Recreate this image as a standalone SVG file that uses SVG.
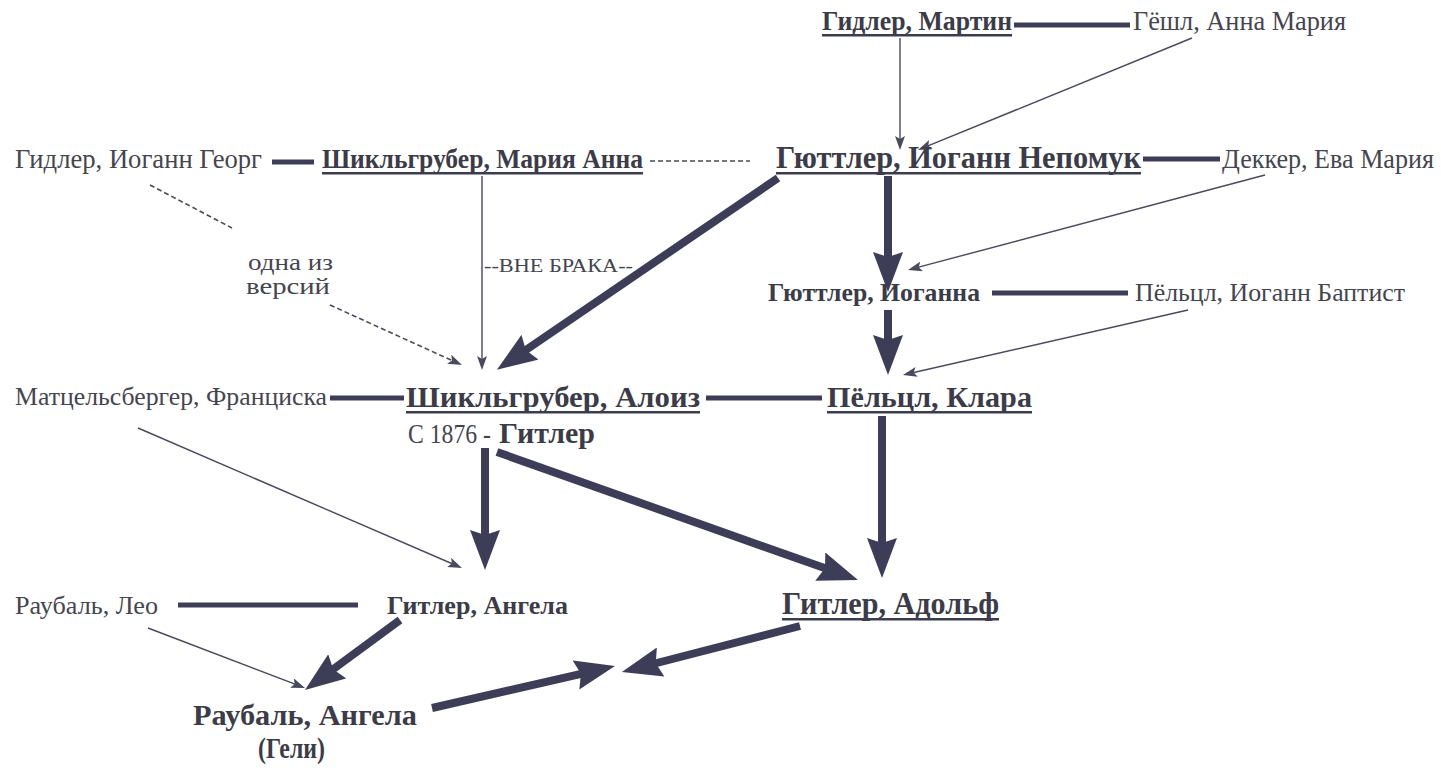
<svg xmlns="http://www.w3.org/2000/svg" width="1441" height="768" viewBox="0 0 1441 768">
<defs>
<style>
text{font-family:"Liberation Serif","Times New Roman",serif;fill:#45454f}
.b{font-weight:bold;fill:#3c3c48}
.ul{fill:#3c3c50}
.thick{stroke:#3d3d58;stroke-width:8;fill:none}
.link{stroke:#3d3d58;stroke-width:5;fill:none}
.thin{stroke:#4a4a5e;stroke-width:1.4;fill:none}
.dash{stroke:#4a4a5e;stroke-width:1.6;fill:none;stroke-dasharray:5 3}
</style>
<marker id="big" viewBox="0 0 40 30" refX="12" refY="15" markerWidth="40" markerHeight="30" markerUnits="userSpaceOnUse" orient="auto">
<path d="M0,0 L40,15 L0,30 L5,15 z" fill="#3d3d58"/>
</marker>
<marker id="sm" viewBox="0 0 14 10" refX="4" refY="5" markerWidth="14" markerHeight="10" markerUnits="userSpaceOnUse" orient="auto">
<path d="M0,0 L14,5 L0,10 L3,5 z" fill="#4a4a5e"/>
</marker>
</defs>
<rect width="1441" height="768" fill="#ffffff"/>

<g id="connectors">
<line class="link" x1="1014" y1="25" x2="1130" y2="25"/>
<line class="link" x1="1143" y1="159" x2="1220" y2="159"/>
<line class="link" x1="992" y1="293" x2="1128" y2="293"/>
<line class="link" x1="272" y1="162" x2="314" y2="162"/>
<line class="link" x1="330" y1="398" x2="404" y2="398"/>
<line class="link" x1="706" y1="398" x2="822" y2="398"/>
<line class="link" x1="178" y1="605" x2="358" y2="605"/>
<line class="dash" x1="650" y1="161" x2="750" y2="161"/>

<line class="thin" x1="900" y1="38" x2="900" y2="140" marker-end="url(#sm)"/>
<line class="thin" x1="1192" y1="38" x2="927.3" y2="146.2" marker-end="url(#sm)"/>
<line class="thin" x1="1265" y1="175" x2="917.7" y2="267.4" marker-end="url(#sm)"/>
<line class="thin" x1="1188" y1="310" x2="912.7" y2="372.8" marker-end="url(#sm)"/>
<line class="thin" x1="482" y1="176" x2="482" y2="360" marker-end="url(#sm)"/>
<line class="thin" x1="138" y1="428" x2="452.8" y2="564" marker-end="url(#sm)"/>
<line class="thin" x1="148" y1="628" x2="295.7" y2="684.4" marker-end="url(#sm)"/>
<line class="dash" x1="150" y1="185" x2="232" y2="228"/>
<line class="dash" x1="330" y1="305" x2="452.9" y2="360.9" marker-end="url(#sm)"/>

<line class="thick" x1="888" y1="176" x2="888" y2="264" marker-end="url(#big)"/>
<line class="thick" x1="888" y1="310" x2="888" y2="347" marker-end="url(#big)"/>
<line class="thick" x1="778" y1="178" x2="520" y2="354" marker-end="url(#big)"/>
<line class="thick" x1="485" y1="448" x2="485" y2="542" marker-end="url(#big)"/>
<line class="thick" x1="497" y1="452" x2="831.6" y2="570.6" marker-end="url(#big)"/>
<line class="thick" x1="882" y1="416" x2="882" y2="550" marker-end="url(#big)"/>
<line class="thick" x1="400" y1="620" x2="327.5" y2="673.4" marker-end="url(#big)"/>
<line class="thick" x1="432" y1="708" x2="587.7" y2="672.3" marker-end="url(#big)"/>
<line class="thick" x1="800" y1="626" x2="649" y2="665" marker-end="url(#big)"/>
</g>

<g id="n-martin"><text class="b" x="822" y="30" font-size="27" textLength="190" lengthAdjust="spacingAndGlyphs">Гидлер, Мартин</text><rect class="ul" x="822" y="34" width="190" height="2.5"/></g>
<g id="n-goeschl"><text x="1133" y="30" font-size="27" textLength="213" lengthAdjust="spacingAndGlyphs">Гёшл, Анна Мария</text></g>
<g id="n-nepomuk"><text class="b" x="776" y="168" font-size="32" textLength="365" lengthAdjust="spacingAndGlyphs">Гюттлер, Иоганн Непомук</text><rect class="ul" x="776" y="172" width="365" height="2.5"/></g>
<g id="n-dekker"><text x="1222" y="168" font-size="27" textLength="212" lengthAdjust="spacingAndGlyphs">Деккер, Ева Мария</text></g>
<g id="n-georg"><text x="15" y="168" font-size="27" textLength="247" lengthAdjust="spacingAndGlyphs">Гидлер, Иоганн Георг</text></g>
<g id="n-mariaanna"><text class="b" x="322" y="168" font-size="27" textLength="321" lengthAdjust="spacingAndGlyphs">Шикльгрубер, Мария Анна</text><rect class="ul" x="322" y="172" width="321" height="2.5"/></g>
<g id="n-version"><text x="248" y="270" font-size="24" textLength="85" lengthAdjust="spacingAndGlyphs">одна из</text><text x="246" y="294" font-size="24" textLength="84" lengthAdjust="spacingAndGlyphs">версий</text></g>
<g id="n-vnebraka"><text x="484" y="272" font-size="19" textLength="149" lengthAdjust="spacingAndGlyphs">--ВНЕ БРАКА--</text></g>
<g id="n-iogana"><text class="b" x="768" y="301" font-size="25" textLength="212" lengthAdjust="spacingAndGlyphs">Гюттлер, Иоганна</text></g>
<g id="n-baptist"><text x="1135" y="301" font-size="25" textLength="270" lengthAdjust="spacingAndGlyphs">Пёльцл, Иоганн Баптист</text></g>
<g id="n-franziska"><text x="15" y="405" font-size="26" textLength="312" lengthAdjust="spacingAndGlyphs">Матцельсбергер, Франциска</text></g>
<g id="n-alois"><text class="b" x="406" y="407" font-size="30" textLength="294" lengthAdjust="spacingAndGlyphs">Шикльгрубер, Алоиз</text><rect class="ul" x="406" y="411" width="294" height="2.5"/>
<text x="408" y="443" font-size="27" textLength="83" lengthAdjust="spacingAndGlyphs">С 1876 -</text><text class="b" x="499" y="443" font-size="30" textLength="96" lengthAdjust="spacingAndGlyphs">Гитлер</text></g>
<g id="n-klara"><text class="b" x="827" y="407" font-size="30" textLength="205" lengthAdjust="spacingAndGlyphs">Пёльцл, Клара</text><rect class="ul" x="827" y="411" width="205" height="2.5"/></g>
<g id="n-leo"><text x="15" y="614" font-size="26" textLength="143" lengthAdjust="spacingAndGlyphs">Раубаль, Лео</text></g>
<g id="n-angela"><text class="b" x="387" y="614" font-size="26" textLength="181" lengthAdjust="spacingAndGlyphs">Гитлер, Ангела</text></g>
<g id="n-adolf"><text class="b" x="782" y="614" font-size="31" textLength="217" lengthAdjust="spacingAndGlyphs">Гитлер, Адольф</text><rect class="ul" x="782" y="618" width="217" height="2.5"/></g>
<g id="n-geli"><text class="b" x="193" y="725" font-size="30" textLength="224" lengthAdjust="spacingAndGlyphs">Раубаль, Ангела</text><text class="b" x="258" y="758" font-size="30" textLength="67" lengthAdjust="spacingAndGlyphs">(Гели)</text></g>
</svg>
